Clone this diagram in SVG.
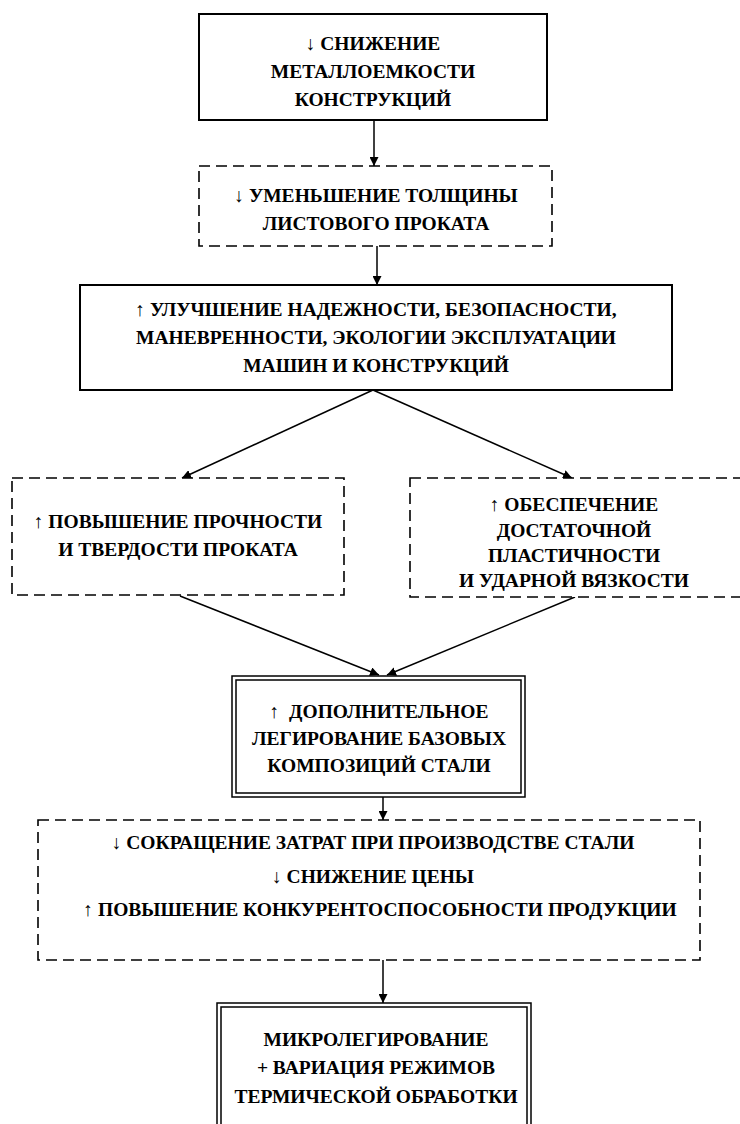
<svg xmlns="http://www.w3.org/2000/svg" width="740" height="1124" viewBox="0 0 740 1124">
  <style>
    .solid { fill: #fff; stroke: #000; stroke-width: 2; }
    .dash { fill: #fff; stroke: #000; stroke-width: 1.6; stroke-dasharray: 11 6; }
    .dbl { fill: none; stroke: #000; stroke-width: 1.5; }
    .edge { fill: none; stroke: #000; stroke-width: 1.5; marker-end: url(#ah); }
  </style>
  <defs>
    <marker id="ah" viewBox="0 0 10 10" refX="10" refY="5" markerWidth="9" markerHeight="9" markerUnits="userSpaceOnUse" orient="auto">
      <path d="M0,0 L10,5 L0,10 z" fill="#000"/>
    </marker>
  </defs>
  <rect width="740" height="1124" fill="#fff"/>

  <!-- connectors -->
  <g id="connectors">
    <line class="edge" x1="374" y1="120" x2="374" y2="166"/>
    <line class="edge" x1="377" y1="246" x2="377" y2="285"/>
    <line class="edge" x1="373" y1="390" x2="182" y2="478"/>
    <line class="edge" x1="373" y1="390" x2="572" y2="478"/>
    <line class="edge" x1="180" y1="596" x2="379" y2="675"/>
    <line class="edge" x1="575" y1="597" x2="387" y2="675"/>
    <line class="edge" x1="383" y1="797" x2="383" y2="820"/>
    <line class="edge" x1="383" y1="960" x2="383" y2="1003"/>
  </g>

  <!-- nodes; all labels share one bold serif face -->
  <g font-family="Liberation Serif, serif" font-weight="bold" font-size="19.5" text-anchor="middle" fill="#000">
    <g id="n1">
      <rect class="solid" x="199" y="14" width="348" height="106"/>
      <text x="373" y="50">↓ СНИЖЕНИЕ</text>
      <text x="373" y="78">МЕТАЛЛОЕМКОСТИ</text>
      <text x="373" y="106">КОНСТРУКЦИЙ</text>
    </g>

    <g id="n2">
      <rect class="dash" x="199" y="166" width="353" height="80"/>
      <text x="376" y="202">↓ УМЕНЬШЕНИЕ ТОЛЩИНЫ</text>
      <text x="376" y="230">ЛИСТОВОГО ПРОКАТА</text>
    </g>

    <g id="n3">
      <rect class="solid" x="80" y="285" width="592" height="105"/>
      <text x="376" y="316">↑ УЛУЧШЕНИЕ НАДЕЖНОСТИ, БЕЗОПАСНОСТИ,</text>
      <text x="376" y="344">МАНЕВРЕННОСТИ, ЭКОЛОГИИ ЭКСПЛУАТАЦИИ</text>
      <text x="376" y="372">МАШИН И КОНСТРУКЦИЙ</text>
    </g>

    <g id="n4">
      <rect class="dash" x="12" y="478" width="332" height="117"/>
      <text x="178" y="528">↑ ПОВЫШЕНИЕ ПРОЧНОСТИ</text>
      <text x="178" y="556">И ТВЕРДОСТИ ПРОКАТА</text>
    </g>

    <g id="n5">
      <rect class="dash" x="410" y="478" width="336" height="119"/>
      <text x="574" y="511">↑ ОБЕСПЕЧЕНИЕ</text>
      <text x="574" y="537">ДОСТАТОЧНОЙ</text>
      <text x="574" y="562">ПЛАСТИЧНОСТИ</text>
      <text x="574" y="587">И УДАРНОЙ ВЯЗКОСТИ</text>
    </g>

    <g id="n6">
      <rect x="232" y="676" width="293" height="121" fill="#fff"/>
      <rect class="dbl" x="232" y="676" width="293" height="121"/>
      <rect class="dbl" x="236" y="680" width="285" height="113"/>
      <text x="379" y="718" xml:space="preserve">↑  ДОПОЛНИТЕЛЬНОЕ</text>
      <text x="379" y="745">ЛЕГИРОВАНИЕ БАЗОВЫХ</text>
      <text x="379" y="772">КОМПОЗИЦИЙ СТАЛИ</text>
    </g>

    <g id="n7">
      <rect class="dash" x="38" y="820" width="662" height="140"/>
      <text x="373" y="849">↓ СОКРАЩЕНИЕ ЗАТРАТ ПРИ ПРОИЗВОДСТВЕ СТАЛИ</text>
      <text x="373" y="883">↓ СНИЖЕНИЕ ЦЕНЫ</text>
      <text x="380" y="916">↑ ПОВЫШЕНИЕ КОНКУРЕНТОСПОСОБНОСТИ ПРОДУКЦИИ</text>
    </g>

    <g id="n8">
      <rect x="217" y="1003" width="314" height="125" fill="#fff"/>
      <rect class="dbl" x="217" y="1003" width="314" height="125"/>
      <rect class="dbl" x="221" y="1007" width="306" height="125"/>
      <text x="376" y="1046">МИКРОЛЕГИРОВАНИЕ</text>
      <text x="376" y="1074">+ ВАРИАЦИЯ РЕЖИМОВ</text>
      <text x="376" y="1103">ТЕРМИЧЕСКОЙ ОБРАБОТКИ</text>
    </g>
  </g>
</svg>
